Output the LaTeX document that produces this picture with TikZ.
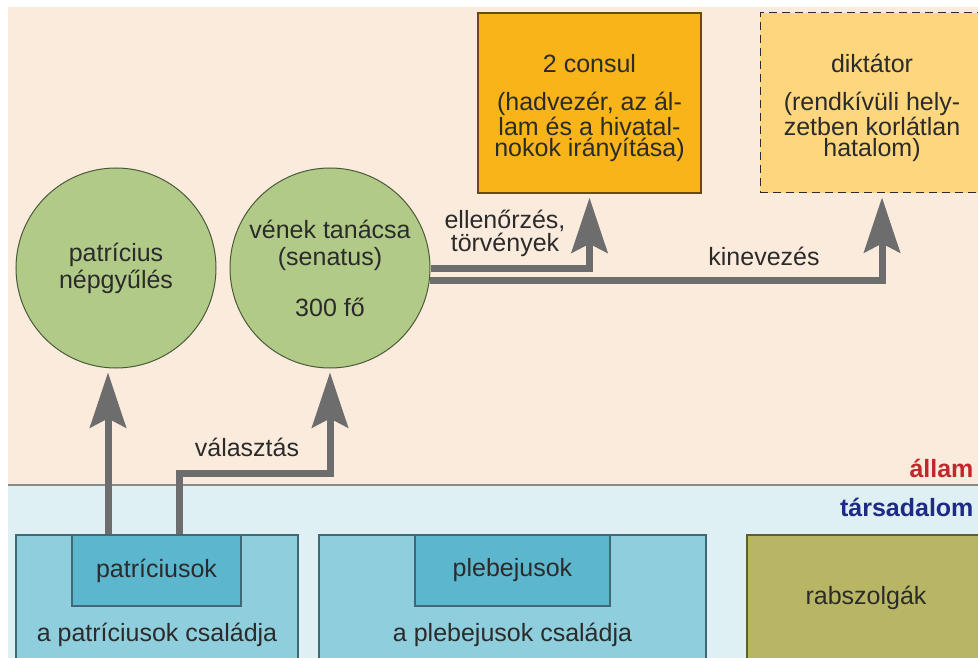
\documentclass[tikz,border=0pt]{standalone}
\usepackage{fontspec}
\setmainfont{Liberation Sans}
\usetikzlibrary{arrows.meta}

\definecolor{peach}{HTML}{FBEBDD}
\definecolor{skyback}{HTML}{DFF0F4}
\definecolor{famfill}{HTML}{8FCEDC}
\definecolor{innerfill}{HTML}{5CB6CD}
\definecolor{boxline}{HTML}{3E6A75}
\definecolor{circfill}{HTML}{B2CA87}
\definecolor{circline}{HTML}{4B5A3A}
\definecolor{consulfill}{HTML}{F8B418}
\definecolor{consulline}{HTML}{6A4A12}
\definecolor{diktfill}{HTML}{FDD67E}
\definecolor{slavefill}{HTML}{B8B665}
\definecolor{slaveline}{HTML}{5E5E30}
\definecolor{arrgray}{HTML}{6D6D6D}
\definecolor{txt}{HTML}{2B2B2B}
\definecolor{statered}{HTML}{C1272D}
\definecolor{socblue}{HTML}{1D2A86}

\begin{document}
\begin{tikzpicture}[x=1pt, y=-1pt,
  every node/.style={font=\fontsize{25}{27}\selectfont, text=txt},
  arr/.style={draw=arrgray, line width=7pt, shorten >=4pt,
    -{Stealth[length=55pt, width=36pt, inset=9pt]}},
  circ/.style={circle, draw=circline, line width=1pt, fill=circfill,
    minimum size=200pt, inner sep=0pt, align=center},
  fam/.style={rectangle, draw=boxline, line width=1.2pt, fill=famfill},
  inner/.style={rectangle, draw=boxline, line width=1.2pt, fill=innerfill},
  office/.style={rectangle, minimum width=223pt, minimum height=180pt},
  officetxt/.style={align=center, font=\fontsize{25}{21.5}\selectfont}]
\useasboundingbox (0,0) rectangle (978,658);
\begin{scope}
\clip (8,7) rectangle (978,658);

% Background: state above, society below
\fill[peach] (8,7) rectangle (978,485);
\fill[skyback] (8,485) rectangle (978,658);
\draw[arrgray!80, line width=2pt] (8,485) -- (978,485);

\node[anchor=east, font=\fontsize{25}{27}\selectfont\bfseries, text=statered] (allam) at (977,468) {állam};
\node[anchor=east, font=\fontsize{25}{27}\selectfont\bfseries, text=socblue] (tars) at (977,507) {társadalom};

% Society
\node[fam, minimum width=282pt, minimum height=150pt] (pfam) at (157,610) {};
\node[inner, minimum width=169pt, minimum height=71pt] (pat) at (156.5,570.5) {patríciusok};
\node (pfamtxt) at (157,635) {a patríciusok családja};

\node[fam, minimum width=387pt, minimum height=150pt] (plfam) at (512.5,610) {};
\node[inner, minimum width=195pt, minimum height=71pt] (pleb) at (512.5,570.5) {plebejusok};
\node (plfamtxt) at (512.5,635) {a plebejusok családja};

\node[rectangle, draw=slaveline, line width=1.2pt, fill=slavefill,
  minimum width=238pt, minimum height=126pt] (rab) at (866,598) {rabszolgák};

% State
\node[circ] (np) at (116,268) {patrícius\\népgyűlés};
\node[circ] (sen) at (330,268) {vének tanácsa\\(senatus)\\[24pt]300 fő};

\node[office, draw=consulline, line width=1.5pt, fill=consulfill] (con) at (589.5,103) {};
\node[officetxt] (contxt) at (589.5,108)
  {2 consul\\[17pt](hadvezér, az ál-\\lam és a hivatal-\\nokok irányítása)};
\node[office, minimum width=224pt, draw=txt, line width=1pt, dash pattern=on 8pt off 5pt, fill=diktfill] (dik) at (872,103) {};
\node[officetxt] (diktxt) at (872,108)
  {diktátor\\[17pt](rendkívüli hely-\\zetben korlátlan\\hatalom)};

% Arrows
\draw[arr] ([xshift=-48.5pt]pat.north) -- ([xshift=-48.5pt]pat.north |- np.south);
\draw[arr] ([xshift=22.5pt]pat.north) -- ++(0,-61) -| (sen.south);
\node (vlab) at (247,447) {választás};

\draw[arr] (sen.east) -| (con.south);
\draw[arr] (sen.-7) -| ([xshift=10pt]dik.south);
\node[align=center, font=\fontsize{25}{23}\selectfont] (elab) at (505,233) {ellenőrzés,\\törvények};
\node (klab) at (764,256) {kinevezés};
\end{scope}
\end{tikzpicture}
\end{document}
